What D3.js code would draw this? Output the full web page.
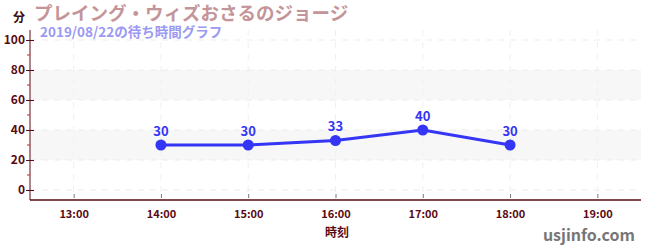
<!DOCTYPE html>
<html><head><meta charset="utf-8">
<script src="https://cdn.jsdelivr.net/npm/d3@7/dist/d3.min.js"></script>
<style>
body{margin:0;background:#fff;}
text{font-family:"Noto Sans CJK JP","Noto Sans",sans-serif;}
</style></head>
<body><svg id="c" width="650" height="250"></svg>
<script>
const hours = [14, 15, 16, 17, 18];
const waits = [30, 30, 33, 40, 30];
const xTickHours = [13, 14, 15, 16, 17, 18, 19];
const yTicks = [0, 20, 40, 60, 80, 100];
const yMinorTicks = [10, 30, 50, 70, 90];
const bands = [[20, 40], [60, 80]];
const title = "プレイング・ウィズおさるのジョージ";
const subtitle = "2019/08/22の待ち時間グラフ";
const yLabel = "分";
const xLabel = "時刻";
const credit = "usjinfo.com";

const svg = d3.select("#c");
const L = 30, R = 641, T = 30, B = 200;
const x = d3.scaleLinear().domain([12.5, 19.5]).range([L, R]);
const y = d3.scaleLinear().domain([-6.667, 106.667]).range([B, T]);
const axisCol = "#5a0a14";

// bands
svg.selectAll(".band").data(bands).enter().append("rect")
  .attr("x", L).attr("width", R - L)
  .attr("y", d => y(d[1])).attr("height", d => y(d[0]) - y(d[1]))
  .attr("fill", "#f7f7f7");

// grid
svg.selectAll(".hg").data(yTicks).enter().append("line")
  .attr("x1", L).attr("x2", R).attr("y1", d => y(d)).attr("y2", d => y(d))
  .attr("stroke", "#ececec").attr("stroke-dasharray", "6,6");
svg.selectAll(".vg").data(xTickHours).enter().append("line")
  .attr("y1", T).attr("y2", B).attr("x1", d => x(d)).attr("x2", d => x(d))
  .attr("stroke", "#f0f0f0").attr("stroke-dasharray", "6,6");

// y axis
const yAxis = d3.axisLeft(y).tickValues(yTicks).tickSize(5).tickPadding(3);
const gy = svg.append("g").attr("transform", `translate(${L},0)`).call(yAxis);
gy.select(".domain").attr("stroke", axisCol).attr("d", `M0,${T}V${B}`);
gy.selectAll(".tick line").attr("stroke", axisCol).attr("x2", 4).attr("x1", -4);
gy.selectAll(".tick text").attr("fill", axisCol).attr("font-size", 12).attr("font-weight", "bold")
  .attr("font-family", "'Noto Sans', sans-serif").attr("x", -5);
svg.selectAll(".ym").data(yMinorTicks).enter().append("line")
  .attr("x1", L - 3).attr("x2", L).attr("y1", d => y(d)).attr("y2", d => y(d))
  .attr("stroke", "#e02020");

// x axis
const xAxis = d3.axisBottom(x).tickValues(xTickHours).tickFormat(d => d + ":00").tickSize(0).tickPadding(10);
const gx = svg.append("g").attr("transform", `translate(0,${B})`).call(xAxis);
gx.select(".domain").attr("stroke", axisCol).attr("stroke-width", 1.5).attr("d", `M${L},0H${R}`);
gx.selectAll(".tick line").remove();
gx.selectAll(".tick").append("line").attr("y1", -6).attr("y2", -2).attr("stroke", "#777");
gx.selectAll(".tick text").attr("fill", axisCol).attr("font-size", 11).attr("font-weight", "bold")
  .attr("font-family", "'Noto Sans', sans-serif");

// line
const line = d3.line().x((d, i) => x(hours[i])).y(d => y(d));
svg.append("path").datum(waits).attr("d", line).attr("fill", "none")
  .attr("stroke", "#3535f5").attr("stroke-width", 3);
svg.selectAll(".pt").data(waits).enter().append("circle")
  .attr("cx", (d, i) => x(hours[i])).attr("cy", d => y(d)).attr("r", 5.5)
  .attr("fill", "#3535f5");
svg.selectAll(".lbl").data(waits).enter().append("text")
  .attr("x", (d, i) => x(hours[i])).attr("y", d => y(d) - 9)
  .attr("text-anchor", "middle").attr("font-size", 13).attr("font-weight", "bold")
  .attr("fill", "#3535f5").attr("font-family", "'Noto Sans', sans-serif").text(d => d);

// texts
svg.append("text").attr("x", 13).attr("y", 22).attr("font-size", 12).attr("font-weight", "bold")
  .attr("fill", "#3a0a0a").text(yLabel);
svg.append("text").attr("x", 34).attr("y", 20).attr("font-size", 18.5).attr("font-weight", "bold")
  .attr("fill", "#c49598").text(title);
svg.append("text").attr("x", 40).attr("y", 37).attr("font-size", 13.5).attr("font-weight", "bold")
  .attr("fill", "#9a9af2").attr("font-family", "'Noto Sans CJK JP', sans-serif").text(subtitle);
svg.append("text").attr("x", 337).attr("y", 237).attr("text-anchor", "middle").attr("font-size", 12)
  .attr("font-weight", "bold").attr("fill", axisCol).text(xLabel);
svg.append("text").attr("x", 635).attr("y", 241).attr("text-anchor", "end").attr("font-size", 16)
  .attr("font-weight", "bold").attr("fill", "#777").attr("font-family", "'Noto Sans', sans-serif").text(credit);
</script></body></html>
